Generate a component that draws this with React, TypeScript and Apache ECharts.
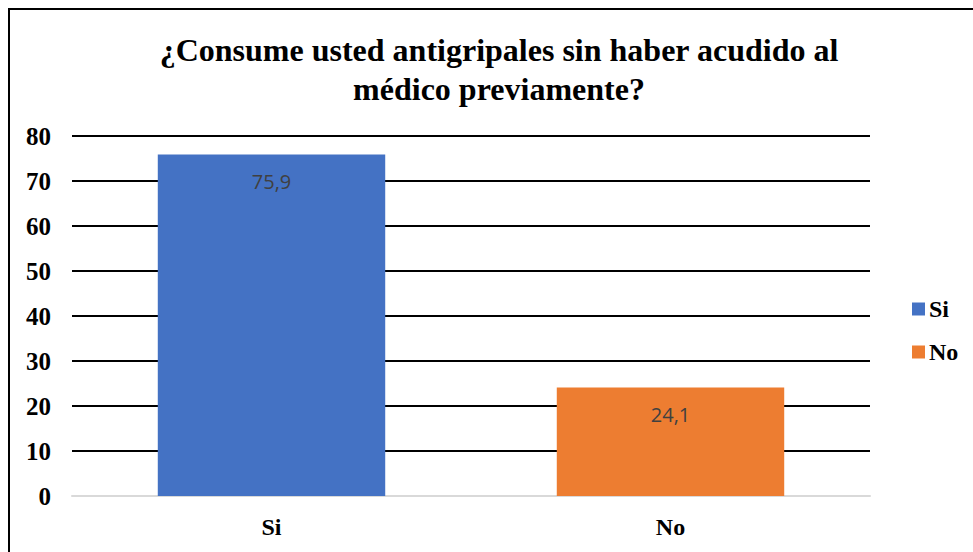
import React, { useEffect, useRef } from "react";
import * as echarts from "echarts";

const categories = ["Si", "No"];
const values = [75.9, 24.1];
const colors = ["#4472C4", "#ED7D31"];
const titleText = "¿Consume usted antigripales sin haber acudido al\nmédico previamente?";

export default function App() {
  const ref = useRef<HTMLDivElement>(null);
  useEffect(() => {
    document.body.style.margin = "0";
    const chart = echarts.init(ref.current!, null, { renderer: "svg" });
    const serif = "Liberation Serif";
    chart.setOption({
      animation: false,
      backgroundColor: "#ffffff",
      title: {
        text: titleText,
        left: 499,
        top: 30,
        padding: 0,
        textAlign: "center",
        textStyle: {
          fontFamily: serif,
          fontWeight: "bold",
          fontSize: 32,
          lineHeight: 39,
          color: "#000000",
        },
      },
      legend: {
        orient: "vertical",
        left: 912,
        top: 297,
        padding: 0,
        itemWidth: 13,
        itemHeight: 13,
        itemGap: 19,
        icon: "rect",
        data: categories,
        textStyle: { fontFamily: serif, fontWeight: "bold", fontSize: 24, color: "#000", padding: [0, 0, 0, -1] },
      },
      grid: { left: 72, right: 103, top: 136, bottom: 56, containLabel: false },
      xAxis: {
        type: "category",
        data: categories,
        axisTick: { show: false },
        axisLine: { show: true, lineStyle: { color: "#D9D9D9", width: 2 } },
        axisLabel: { fontFamily: serif, fontWeight: "bold", fontSize: 24, color: "#000", margin: 19 },
      },
      yAxis: {
        type: "value",
        min: 0,
        max: 80,
        interval: 10,
        axisLine: { show: false },
        axisTick: { show: false },
        splitLine: { lineStyle: { color: "#000000", width: 2 } },
        axisLabel: { fontFamily: serif, fontWeight: "bold", fontSize: 25, color: "#000", margin: 21 },
      },
      series: categories.map((c, i) => ({
        name: c,
        type: "bar",
        stack: "s",
        barWidth: "57%",
        itemStyle: { color: colors[i] },
        data: categories.map((_, j) => (j === i ? values[i] : null)),
        label: {
          show: true,
          position: "insideTop",
          distance: 17,
          formatter: (p: any) => String(p.value).replace(".", ","),
          fontFamily: "Open Sans",
          fontSize: 20,
          color: "#404040",
        },
      })),
      graphic: [
        {
          type: "rect",
          shape: { x: 9, y: 9, width: 1200, height: 800 },
          style: { fill: "none", stroke: "#000", lineWidth: 2 },
          silent: true,
        },
      ],
    });
    return () => chart.dispose();
  }, []);
  return <div ref={ref} style={{ width: 973, height: 552 }} />;
}
